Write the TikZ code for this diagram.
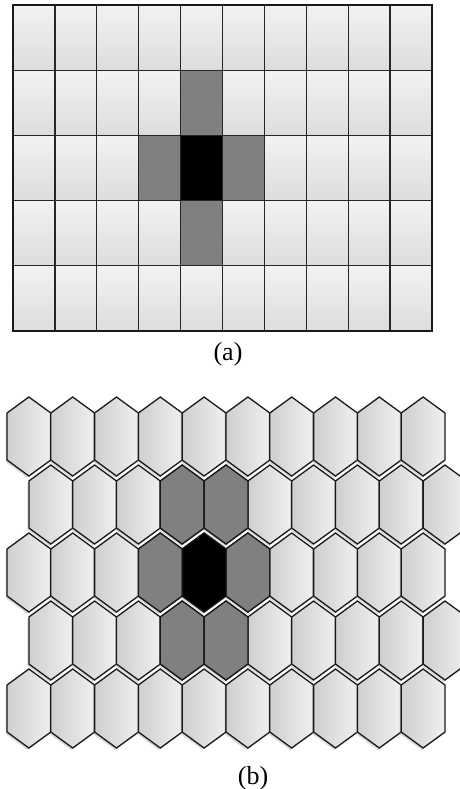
\documentclass[tikz,border=0pt]{standalone}
\usepackage{fontspec}
\setmainfont{Liberation Serif}
\usetikzlibrary{shadows}

\tikzset{
  sqcell/.style={draw=black!85, line width=1.3pt, top color=gray!10, bottom color=gray!27},
  sqdark/.style={draw=black!85, line width=1.3pt, fill=#1},
  hexcell/.style={draw=black!90, line width=1.3pt, left color=gray!38, right color=gray!12,
    drop shadow={shadow xshift=-1.5pt, shadow yshift=-2pt, opacity=0.3}},
  hexdark/.style={draw=black!90, line width=1.3pt, fill=#1},
  capfont/.style={font=\fontsize{26}{28}\selectfont},
}

% one elongated hexagon round (#1,#2)
\newcommand{\hexcell}[3]{%
  \path[#3, shift={(#1,#2)}] (0,-39.5) -- (21.9,-23.5) -- (21.9,23.5) -- (0,39.5)
    -- (-21.9,23.5) -- (-21.9,-23.5) -- cycle;}

\begin{document}
\begin{tikzpicture}[x=1pt, y=-1pt]
  \useasboundingbox (0,0) rectangle (460,789);
  \clip (0,0) rectangle (460,789);

  % (a) square cells
  \foreach \r in {0,...,4}
    \foreach \c in {0,...,9}
      \path[sqcell] (13+41.9*\c,5+65.2*\r) rectangle ++(41.9,65.2);
  \foreach \c/\r in {4/1,3/2,5/2,4/3}
    \path[sqdark=gray] (13+41.9*\c,5+65.2*\r) rectangle ++(41.9,65.2);
  \path[sqdark=black] (13+41.9*4,5+65.2*2) rectangle ++(41.9,65.2);
  \draw[black!90, line width=1.5pt] (13,5) rectangle (432,331);

  \node[capfont] (capa) at (228,354) {(a)};

  % (b) hexagonal cells
  \foreach \r in {0,...,4}
    \foreach \c in {0,...,9} {
      \pgfmathsetmacro{\cx}{28.9+43.8*\c+21.9*mod(\r,2)}
      \pgfmathsetmacro{\cy}{436.5+68*\r}
      \hexcell{\cx}{\cy}{hexcell}
    }
  \foreach \c/\r in {3/1,4/1,3/2,5/2,3/3,4/3} {
    \pgfmathsetmacro{\cx}{28.9+43.8*\c+21.9*mod(\r,2)}
    \pgfmathsetmacro{\cy}{436.5+68*\r}
    \hexcell{\cx}{\cy}{hexdark=gray}
  }
  \hexcell{28.9+43.8*4}{436.5+68*2}{hexdark=black}

  \node[capfont] (capb) at (253,778) {(b)};
\end{tikzpicture}
\end{document}
